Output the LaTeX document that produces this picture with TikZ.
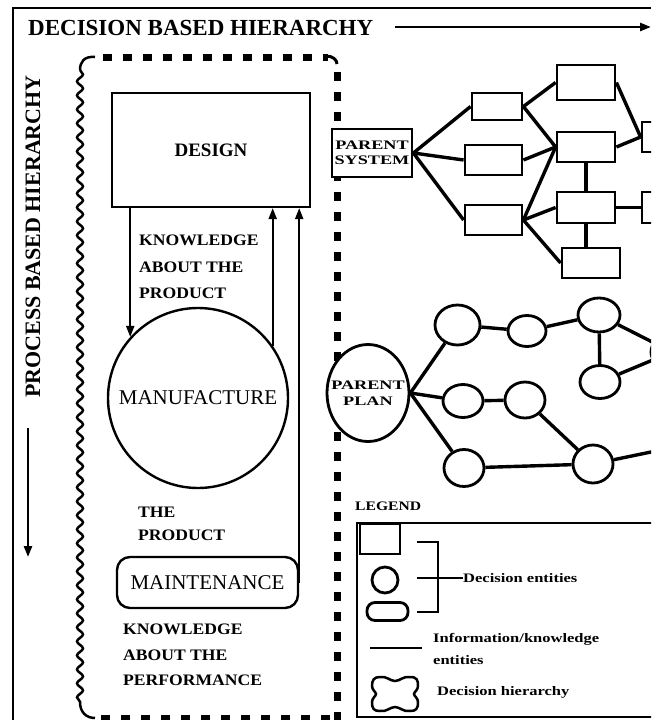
\documentclass[tikz,border=0pt]{standalone}
\usepackage{fontspec}
\usepackage{graphicx}
\setmainfont{Liberation Serif}
\usetikzlibrary{arrows.meta,decorations.pathmorphing,shapes.geometric,calc}
\newcommand{\sz}[1]{\fontsize{#1}{#1}\selectfont}
\newcommand{\sx}[2]{\scalebox{#1}[1]{#2}}
\begin{document}
\begin{tikzpicture}[x=1pt,y=-1pt,
  lw/.style={line width=2.5pt},
  sbox/.style={draw,fill=white,line width=2.8pt,rectangle,inner sep=0pt},
  scirc/.style={draw,fill=white,line width=2.8pt,ellipse,inner sep=0pt},
  edge/.style={line width=3.4pt},
  arr/.style={line width=2pt,-{Triangle[length=11pt,width=8pt]}},
  dots/.style={line width=7pt,dash pattern=on 9pt off 11pt},
  txt/.style={inner sep=0pt,font=\bfseries},
  small/.style={txt,anchor=west,font=\bfseries\sz{16}},
  legt/.style={txt,anchor=west,font=\bfseries\sz{13}},
]
\useasboundingbox (0,0) rectangle (651,720);
\clip (0,0) rectangle (651,720);

% outer frame
\draw[lw] (13,720) -- (13,8) -- (651,8);

% title
\node[txt,anchor=west,font=\bfseries\sz{23}] (title) at (28,28) {DECISION BASED HIERARCHY};
\coordinate (tend) at (651,27);
\draw[arr,line width=2.6pt] (395,27) -- (tend);

% left rotated label
\node[txt,rotate=90,anchor=east,font=\bfseries\sz{22}] (pbh) at (33,75) {PROCESS BASED HIERARCHY};
\coordinate (pend) at (28,557);
\draw[arr,line width=2.4pt] (28,428) -- (pend);

% decision hierarchy border
\draw[dots] (103,57) -- (328,57);
\draw[dots] (337,72) -- (337,720);
\draw[dots] (101,718) -- (330,718);
\draw[lw,decorate,decoration={snake,segment length=14pt,amplitude=3pt}] (80,70) -- (80,702);
\draw[lw] (95,57) .. controls (84,56) and (80,62) .. (80,70);
\draw[lw] (80,702) .. controls (80,712) and (86,718) .. (95,718);
\draw[line width=3pt] (326,56) .. controls (333,56) and (337,60) .. (337,64);

% process nodes
\node[draw,line width=2.2pt,minimum width=198,minimum height=114,inner sep=0pt,font=\bfseries\sz{19}] (design) at (211,150) {DESIGN};
\node[draw,circle,line width=2.4pt,minimum size=180,inner sep=0pt,font=\sz{21}] (mf) at (198,398) {MANUFACTURE};
\node[draw,rounded corners=13pt,line width=2.4pt,minimum width=181,minimum height=51,inner sep=0pt,font=\sz{21}] (mt) at (207.5,582.5) {MAINTENANCE};

\draw[arr] (mf.138 |- design.south) -- (mf.138);
\draw[arr] (mf.35) -- (mf.35 |- design.south);
\draw[arr] (mt.east) -- (mt.east |- design.south);

\node[small] (ka1) at (139,240) {\sx{1.1}{KNOWLEDGE}};
\node[small] (ka2) at (139,267) {\sx{1.1}{ABOUT THE}};
\node[small] (ka3) at (139,293) {\sx{1.1}{PRODUCT}};
\node[small] (tp1) at (138,512) {\sx{1.1}{THE}};
\node[small] (tp2) at (138,535) {\sx{1.1}{PRODUCT}};
\node[small] (kp1) at (123,629) {\sx{1.1}{KNOWLEDGE}};
\node[small] (kp2) at (123,655) {\sx{1.1}{ABOUT THE}};
\node[small] (kp3) at (123,680) {\sx{1.1}{PERFORMANCE}};

% system network
\node[sbox,minimum width=80,minimum height=48,align=center,font=\bfseries\sz{13}] (ps) at (372,153) {\sx{1.4}{PARENT}\\[2pt]\sx{1.4}{SYSTEM}};
\node[sbox,minimum width=50,minimum height=27] (a1) at (497,106.5) {};
\node[sbox,minimum width=57,minimum height=30] (a2) at (493.5,160) {};
\node[sbox,minimum width=57,minimum height=30] (a3) at (493.5,220) {};
\node[sbox,minimum width=58,minimum height=35] (b1) at (586,82.5) {};
\node[sbox,minimum width=58,minimum height=30] (b2) at (586,147) {};
\node[sbox,minimum width=58,minimum height=31] (b3) at (586,207.5) {};
\node[sbox,minimum width=58,minimum height=30] (b4) at (591,263) {};
\node[sbox,minimum width=58,minimum height=30] (c1) at (671,137) {};
\node[sbox,minimum width=58,minimum height=31] (c2) at (671,207.5) {};

\draw[edge] (ps.east) -- (a1.west);
\draw[edge] (ps.east) -- (a2.west);
\draw[edge] (ps.east) -- (a3.west);
\draw[edge] (a1.east) -- (b1.west);
\draw[edge] (a1.east) -- (b2.west);
\draw[edge] (a2.east) -- (b2.west);
\draw[edge] (a3.east) -- (b2.west);
\draw[edge] (a3.east) -- (b3.west);
\draw[edge] (a3.east) -- (b4.west);
\draw[edge] (b1.east) -- (c1.west);
\draw[edge] (b2.east) -- (c1.west);
\draw[edge] (b2.south) -- (b3.north);
\draw[edge] (b3.south) -- (b3.south |- b4.north);
\draw[edge] (b3.east) -- (c2.west);

% plan network
\node[scirc,minimum width=82,minimum height=97] (pp) at (368,393) {};
\node[txt,align=center,font=\bfseries\sz{13}] (ppt) at (pp.center) {\sx{1.4}{PARENT}\\[3pt]\sx{1.4}{PLAN}};
\node[scirc,minimum width=45,minimum height=40] (p1) at (457.5,325) {};
\node[scirc,minimum width=38,minimum height=31] (p2) at (527,331) {};
\node[scirc,minimum width=42,minimum height=34] (p3) at (599,315) {};
\node[scirc,minimum width=40,minimum height=33] (p4) at (600,382) {};
\node[scirc,minimum width=42,minimum height=36] (p5) at (672,352) {};
\node[scirc,minimum width=40,minimum height=33] (q1) at (463,401) {};
\node[scirc,minimum width=40,minimum height=36] (q2) at (525,400) {};
\node[scirc,minimum width=40,minimum height=37] (r1) at (464,468) {};
\node[scirc,minimum width=40,minimum height=38] (r2) at (593,464) {};
\coordinate (r3) at (680,446);

\draw[edge] (pp.east) -- (p1);
\draw[edge] (pp.east) -- (q1);
\draw[edge] (pp.east) -- (r1);
\draw[edge] (p1) -- (p2);
\draw[edge] (p2) -- (p3);
\draw[edge] (p3) -- (p4);
\draw[edge] (p3) -- (p5);
\draw[edge] (p4) -- (p5);
\draw[edge] (q1) -- (q2);
\draw[edge] (q2) -- (r2);
\draw[edge] (r1) -- (r2);
\draw[edge] (r2) -- (r3);

% legend
\node[legt,font=\bfseries\sz{13}] (leg) at (355,506) {\sx{1.2}{LEGEND}};
\draw[lw] (357,523) rectangle (700,717);
\node[sbox,minimum width=40,minimum height=30] (lsq) at (380,539) {};
\node[draw,circle,line width=2.8pt,minimum size=26,inner sep=0pt] (lci) at (385,580) {};
\node[draw,rounded corners=8pt,line width=2.8pt,minimum width=41,minimum height=18,inner sep=0pt] (lrr) at (387.5,611.5) {};
\draw[lw] (417,542) -- (438,542) -- (438,612) -- (417,612);
\node[legt] (de) at (463,578) {\sx{1.27}{Decision entities}};
\draw[lw] (417,578) -- (de.west);
\node[legt] (ik1) at (433,639) {\sx{1.27}{Information/knowledge}};
\node[legt] (ik2) at (433,660) {\sx{1.27}{entities}};
\draw[lw] (370,648) -- (422,648);
\draw[lw] (380,677)
 .. controls (387,676) and (390,681) .. (395,681)
 .. controls (400,681) and (403,676) .. (410,677)
 .. controls (417,677) and (418,680) .. (418,686)
 .. controls (418,690) and (414,692) .. (414,694)
 .. controls (414,696) and (418,698) .. (418,702)
 .. controls (418,709) and (416,711) .. (410,711)
 .. controls (403,712) and (400,707) .. (395,707)
 .. controls (390,707) and (387,712) .. (380,711)
 .. controls (374,711) and (372,709) .. (372,702)
 .. controls (372,698) and (376,696) .. (376,694)
 .. controls (376,692) and (372,690) .. (372,686)
 .. controls (372,680) and (374,677) .. (380,677) -- cycle;
\node[legt] (dh) at (437,692) {\sx{1.27}{Decision hierarchy}};
\end{tikzpicture}
\end{document}
